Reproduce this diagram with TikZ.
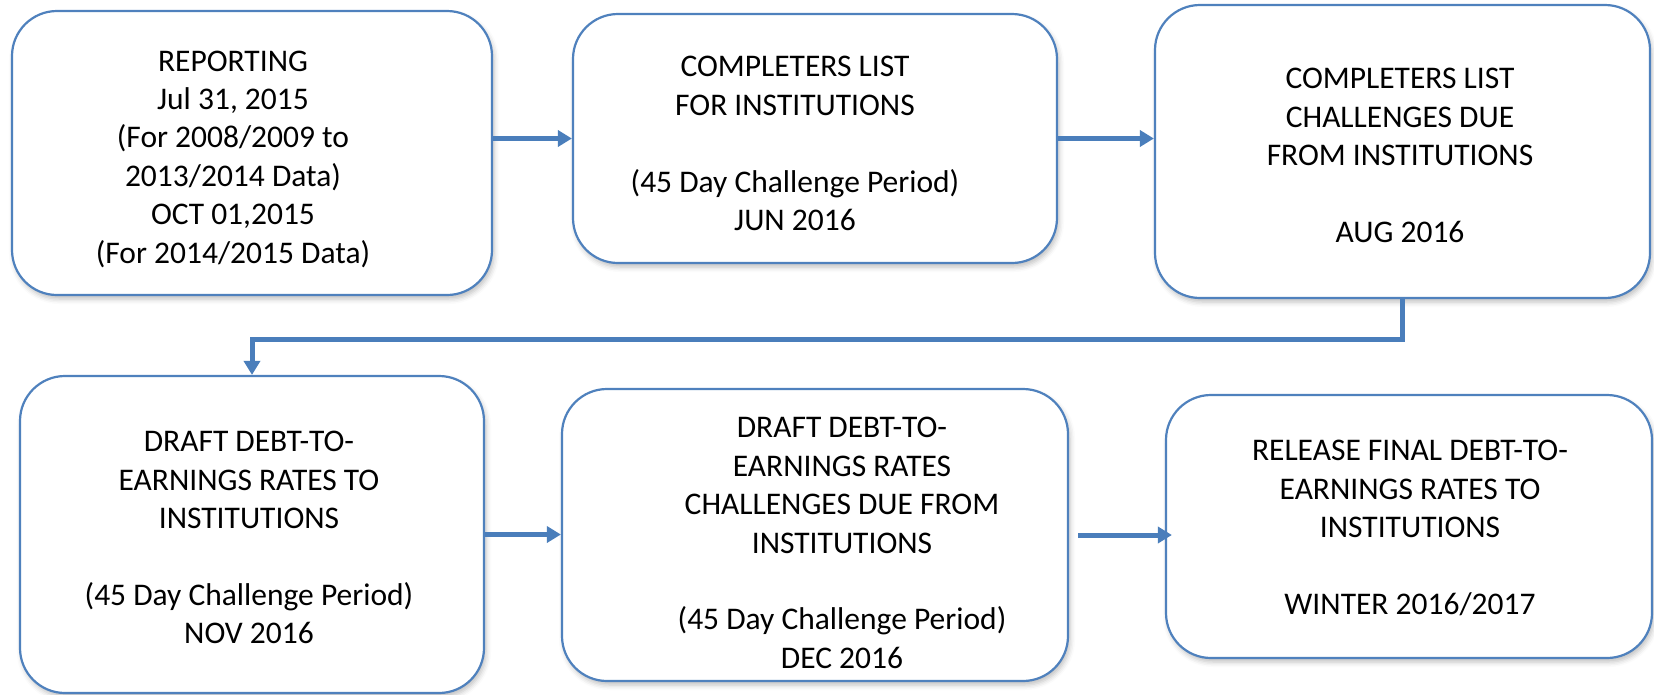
\documentclass[tikz,border=0pt]{standalone}
\usepackage{fontspec}
\setmainfont{Carlito}
\usetikzlibrary{arrows.meta,shadows.blur}
\definecolor{boxblue}{HTML}{4F81BD}
\definecolor{arrowblue}{HTML}{4A7EBB}
\tikzset{
  stage/.style={draw=boxblue, line width=2.2pt, fill=white, rounded corners=45pt,
    blur shadow={shadow xshift=2pt, shadow yshift=-4pt, shadow blur radius=5pt, shadow opacity=25}},
  stagetext/.style={align=center, inner sep=0pt, font=\fontsize{31.5}{38.4}\selectfont},
  flow/.style={draw=arrowblue, line width=5pt, -{Triangle[length=14pt,width=16pt]}}
}
\begin{document}
\begin{tikzpicture}[x=1pt,y=-1pt]
    \useasboundingbox (0,0) rectangle (1654,694);
    % the six stages
    \foreach \n/\x/\y/\w/\h in {1/252/153/480/284, 2/815/138.5/484/249, 3/1402.5/151.5/495/293,
                                4/252/534.5/464/317, 5/815/535/506/292, 6/1409/526.5/486/263}
        \node[stage, minimum width=\w pt, minimum height=\h pt] (b\n) at (\x,\y) {};
    \node[stagetext] (t1) at (233,159) {REPORTING\\Jul 31, 2015\\(For 2008/2009 to\\2013/2014 Data)\\OCT 01,2015\\(For 2014/2015 Data)};
    \node[stagetext] (t2) at (795,143.5) {COMPLETERS LIST\\FOR INSTITUTIONS\\[38.4pt](45 Day Challenge Period)\\JUN 2016};
    \node[stagetext] (t3) at (1400,155.5) {COMPLETERS LIST\\CHALLENGES DUE\\FROM INSTITUTIONS\\[38.4pt]AUG 2016};
    \node[stagetext] (t4) at (249,537.5) {DRAFT DEBT-TO-\\EARNINGS RATES TO\\INSTITUTIONS\\[38.4pt](45 Day Challenge Period)\\NOV 2016};
    \node[stagetext] (t5) at (842,543) {DRAFT DEBT-TO-\\EARNINGS RATES\\CHALLENGES DUE FROM\\INSTITUTIONS\\[38.4pt](45 Day Challenge Period)\\DEC 2016};
    \node[stagetext] (t6) at (1410,528) {RELEASE FINAL DEBT-TO-\\EARNINGS RATES TO\\INSTITUTIONS\\[38.4pt]WINTER 2016/2017};
    % arrows
    \draw[flow] (b1.east |- b2.west) -- (b2.west);
    \draw[flow] (b2.east) -- (b2.east -| b3.west);
    \draw[flow] (b3.south) -- ++(0,40) -| (b4.north);
    \draw[flow] (b4.east) -- (b4.east -| b5.west);
    \draw[flow] ([xshift=9pt]b5.east) -- ([xshift=7pt]b5.east -| b6.west);
\end{tikzpicture}
\end{document}
